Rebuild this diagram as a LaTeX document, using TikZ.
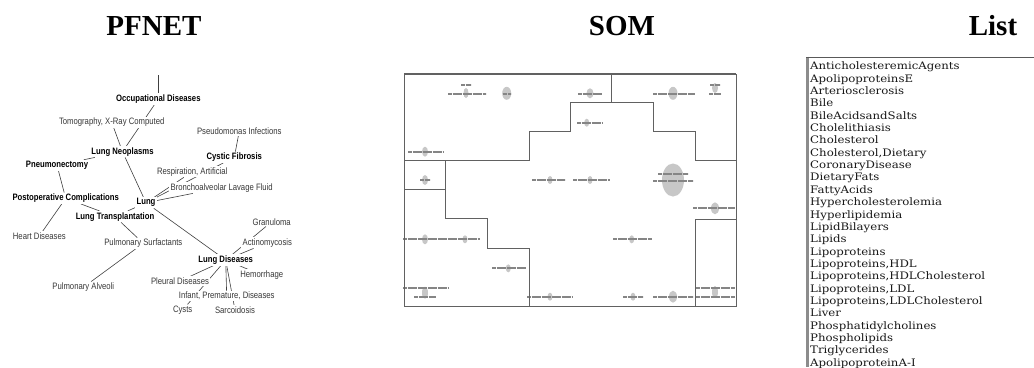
\documentclass[tikz,border=0pt]{standalone}
\usepackage{fontspec}
\newfontfamily\pffont{Liberation Sans}[FakeStretch=0.83]
\newfontfamily\titlefont{Liberation Serif}
\newfontfamily\listfont{DejaVu Serif}[FakeStretch=1.14]
\usetikzlibrary{backgrounds}
\tikzset{
  ttl/.style={anchor=base, inner sep=0pt, font=\titlefont\bfseries\fontsize{29}{30}\selectfont},
  lbl/.style={fill=white, inner sep=1.2pt, text=black!78, font=\pffont\fontsize{9.3}{10}\selectfont},
  blbl/.style={fill=white, inner sep=1.2pt, text=black, font=\pffont\bfseries\fontsize{9.3}{10}\selectfont},
  edge/.style={draw=black!75, line width=0.6pt},
  somline/.style={draw=black!62, line width=0.9pt},
  blob/.style={fill=black!22, draw=none},
  garb/.style={draw=black!48, line width=2.3pt, dash pattern=on 2.6pt off 0.4pt on 1.2pt off 0.4pt on 3pt off 0.4pt on 1.6pt off 0.4pt},
  item/.style={anchor=base west, inner sep=0pt, text=black!90, font=\listfont\fontsize{10.3}{11}\selectfont}
}
\begin{document}
\begin{tikzpicture}[x=1pt,y=-1pt]
\useasboundingbox (0,0) rectangle (1034,367);

% titles
\node[ttl] (tpf) at (154,35.5) {PFNET};
\node[ttl] (tsom) at (622,35.5) {SOM};
\node[ttl] (tlist) at (993,35.5) {List};

% ---------------- PFNET ----------------
\coordinate (top) at (158.3,75);
\node[blbl] (occ) at (158.3,99) {Occupational Diseases};
\node[lbl] (tom) at (111.7,122.3) {Tomography, X-Ray Computed};
\node[blbl] (neo) at (122.5,151.7) {Lung Neoplasms};
\node[blbl] (pneu) at (57,165.3) {Pneumonectomy};
\node[blbl] (postop) at (65.7,198.3) {Postoperative Complications};
\node[blbl] (transp) at (115,216.7) {Lung Transplantation};
\node[blbl] (lung) at (146,202.7) {Lung};
\node[lbl] (pseudo) at (239.3,131) {Pseudomonas Infections};
\node[blbl] (cystic) at (234.3,157.3) {Cystic Fibrosis};
\node[lbl] (resp) at (192.3,171.7) {Respiration, Artificial};
\node[lbl] (broncho) at (221.7,187.7) {Bronchoalveolar Lavage Fluid};
\node[lbl] (heart) at (39.3,236) {Heart Diseases};
\node[lbl] (surf) at (143.3,243.3) {Pulmonary Surfactants};
\node[lbl] (alv) at (83.3,287.3) {Pulmonary Alveoli};
\node[blbl] (ldis) at (225.7,260) {Lung Diseases};
\node[lbl] (gran) at (271.7,221.7) {Granuloma};
\node[lbl] (actino) at (267.3,242.7) {Actinomycosis};
\node[lbl] (hem) at (261.7,275) {Hemorrhage};
\node[lbl] (pleural) at (180,281) {Pleural Diseases};
\node[lbl] (infant) at (226.7,296) {Infant, Premature, Diseases};
\node[lbl] (cysts) at (182.7,310) {Cysts};
\node[lbl] (sarc) at (235,310) {Sarcoidosis};

\begin{scope}[on background layer]
\fill[white] (0,0) rectangle (1034,367);
\draw[edge] (top) -- (occ);
\draw[edge] (occ) -- (neo);
\draw[edge] (tom) -- (neo);
\draw[edge] (pneu) -- (neo);
\draw[edge] (pneu) -- (postop);
\draw[edge] (postop) -- (transp);
\draw[edge] (postop) -- (heart);
\draw[edge] (neo) -- (lung);
\draw[edge] (lung) -- (transp);
\draw[edge] (transp) -- (surf);
\draw[edge] (surf) -- (alv);
\draw[edge] (lung) -- (ldis);
\draw[edge] (lung) -- (broncho);
\draw[edge] (lung) -- (resp);
\draw[edge] (lung) -- (cystic);
\draw[edge] (pseudo) -- (cystic);
\draw[edge] (ldis) -- (gran);
\draw[edge] (ldis) -- (actino);
\draw[edge] (ldis) -- (hem);
\draw[edge] (ldis) -- (pleural);
\draw[edge] (ldis) -- (cysts);
\draw[edge] (ldis) -- (infant);
\draw[edge] (ldis) -- (sarc);
\end{scope}

% ---------------- SOM ----------------
% blobs
\fill[blob] (466,93) ellipse [x radius=2.5, y radius=5];
\fill[blob] (506.7,93.3) ellipse [x radius=4.5, y radius=6.5];
\fill[blob] (590,93.3) ellipse [x radius=3.5, y radius=5];
\fill[blob] (673,93.3) ellipse [x radius=4.5, y radius=6.5];
\fill[blob] (715,88) ellipse [x radius=3, y radius=5];
\fill[blob] (586.7,122.7) ellipse [x radius=2.5, y radius=4];
\fill[blob] (425,151.7) ellipse [x radius=3, y radius=5];
\fill[blob] (425,180) ellipse [x radius=3, y radius=5];
\fill[blob] (550,180) ellipse [x radius=2.5, y radius=4];
\fill[blob] (590,180) ellipse [x radius=2.5, y radius=4];
\fill[blob] (673,180) ellipse [x radius=11, y radius=16.5];
\fill[blob] (715,208.3) ellipse [x radius=4, y radius=6];
\fill[blob] (425,239.3) ellipse [x radius=3, y radius=5];
\fill[blob] (465,239.3) ellipse [x radius=2.5, y radius=4];
\fill[blob] (508.3,268.3) ellipse [x radius=2.5, y radius=4];
\fill[blob] (425,292.7) ellipse [x radius=3, y radius=6];
\fill[blob] (550,296.7) ellipse [x radius=2.5, y radius=4];
\fill[blob] (631.7,239.3) ellipse [x radius=2.5, y radius=4];
\fill[blob] (633,296.7) ellipse [x radius=2.5, y radius=4];
\fill[blob] (673,296.7) ellipse [x radius=4, y radius=6];
\fill[blob] (715,292) ellipse [x radius=3, y radius=6];

% garbled labels
\draw[garb] (461,85) -- (471,85);
\draw[garb] (448,94) -- (486,94);
\draw[garb] (503,94) -- (511,94);
\draw[garb] (578,94) -- (602,94);
\draw[garb] (653,94) -- (695,94);
\draw[garb] (710,85) -- (720,85);
\draw[garb] (709,94) -- (721,94);
\draw[garb] (577,122.7) -- (603,122.7);
\draw[garb] (408,152) -- (443,152);
\draw[garb] (420,180) -- (430,180);
\draw[garb] (532,180) -- (565,180);
\draw[garb] (573,180) -- (610,180);
\draw[garb] (658,174) -- (688,174);
\draw[garb] (653,181) -- (693,181);
\draw[garb] (693,208.3) -- (735,208.3);
\draw[garb] (403,239.3) -- (480,239.3);
\draw[garb] (492,268.3) -- (526,268.3);
\draw[garb] (403,288) -- (448,288);
\draw[garb] (414,296.7) -- (436,296.7);
\draw[garb] (527,296.7) -- (573,296.7);
\draw[garb] (613,239.3) -- (652,239.3);
\draw[garb] (623,296.7) -- (643,296.7);
\draw[garb] (653,296.7) -- (693,296.7);
\draw[garb] (696,288) -- (735,288);
\draw[garb] (696,297) -- (735,297);

% frame and cluster borders
\draw[somline] (404,74) rectangle (736,306);
\draw[somline, line width=1.2pt] (404,74) -- (736,74);
\draw[somline] (404,160.7) -- (529,160.7) -- (529,131.7) -- (570.7,131.7) -- (570.7,102.7)
  -- (653.3,102.7) -- (653.3,131.7) -- (695,131.7) -- (695,160.7) -- (736,160.7);
\draw[somline] (611.7,74) -- (611.7,102.7);
\draw[somline] (404,189.3) -- (445.7,189.3);
\draw[somline] (445.7,160.7) -- (445.7,218.3) -- (487.3,218.3) -- (487.3,248.3) -- (529,248.3) -- (529,306);
\draw[somline] (695,306) -- (695,219) -- (736,219);

% ---------------- List ----------------
\draw[black!45, line width=3.5pt] (807.5,56.5) -- (807.5,367);
\draw[black!65, line width=0.9pt] (806,57) -- (1034,57);
\foreach \t [count=\i from 0] in {AnticholesteremicAgents, ApolipoproteinsE, Arteriosclerosis, Bile,
  BileAcidsandSalts, Cholelithiasis, Cholesterol, {Cholesterol,Dietary}, CoronaryDisease, DietaryFats,
  FattyAcids, Hypercholesterolemia, Hyperlipidemia, LipidBilayers, Lipids, Lipoproteins,
  {Lipoproteins,HDL}, {Lipoproteins,HDLCholesterol}, {Lipoproteins,LDL}, {Lipoproteins,LDLCholesterol},
  Liver, Phosphatidylcholines, Phospholipids, Triglycerides, ApolipoproteinA-I}
  \node[item] (li\i) at (810, 69.7 + 12.36*\i) {\t};
\end{tikzpicture}
\end{document}
